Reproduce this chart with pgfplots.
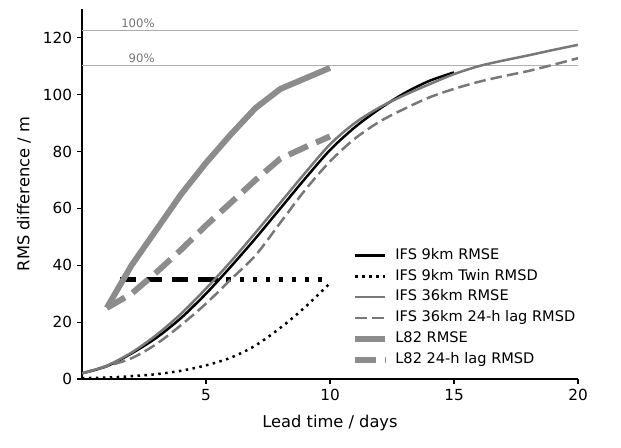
\documentclass[border=0pt]{standalone}
\usepackage{fontspec}
\setmainfont{DejaVu Sans}
\usepackage{pgfplots}
\pgfplotsset{compat=1.18}
\definecolor{lgray}{gray}{0.55}
\definecolor{mgray}{gray}{0.47}
\definecolor{refgray}{gray}{0.68}
\definecolor{txtgray}{gray}{0.45}
\begin{document}
\begin{tikzpicture}
\useasboundingbox (0,0) rectangle (447.12pt,321.84pt);
\begin{axis}[
  at={(59.04pt,48.96pt)}, anchor=south west,
  scale only axis, width=357.12pt, height=266.2pt,
  xmin=0, xmax=20, ymin=0, ymax=130,
  axis x line*=bottom, axis y line*=left,
  tick align=outside, major tick length=3.6pt,
  xtick={5,10,15,20}, ytick={0,20,...,120},
  tick style={black, line width=0.8pt},
  axis line style={line width=0.8pt},
  every tick label/.append style={font=\fontsize{11}{13}\selectfont},
  /pgf/number format/assume math mode=true,
  label style={font=\fontsize{11.7}{14}\selectfont},
  xlabel={Lead time / days}, ylabel={RMS difference / m},
  xlabel style={at={(axis description cs:0.5,0)}, anchor=base, yshift=-34.6pt},
  ylabel style={at={(axis description cs:-0.106,0.5)}, anchor=base},
  legend style={at={(0.5363,0.362)}, anchor=north west, draw=none, fill=none,
    font=\fontsize{10.5}{12}\selectfont, row sep=4.5pt,
    nodes={inner sep=0pt, text height=8pt, text depth=2.5pt},
    /tikz/every odd column/.append style={column sep=5pt}},
  legend cell align=left,
  legend image code/.code={\draw[#1] (0pt,0pt) -- (21.6pt,0pt);},
]
\addplot[refgray, line width=0.8pt, forget plot] coordinates {(0,122.5) (20,122.5)};
\addplot[refgray, line width=0.8pt, forget plot] coordinates {(0,110.25) (20,110.25)};
\node[anchor=base east, text=txtgray, font=\fontsize{8.4}{10}\selectfont, inner sep=0pt] at (axis cs:2.94,123.7) {100\%};
\node[anchor=base east, text=txtgray, font=\fontsize{8.4}{10}\selectfont, inner sep=0pt] at (axis cs:2.94,111.4) {90\%};

\addplot[black, line width=3.1pt, dash pattern=on 11.5pt off 7pt, forget plot] coordinates {(1.55,35) (5.3,35)};
\addplot[black, line width=3.1pt, dash pattern=on 3pt off 6.4pt, forget plot] coordinates {(5.3,35) (9.95,35)};

\addplot[black, line width=1.8pt, smooth, line join=round] coordinates {(0,2) (1,4.5) (2,9) (3,14.5) (4,21.5) (5,30) (6,39.5) (7,49.5) (8,60) (9,70.5) (10,80.5) (11,88.5) (12,95) (13,100.5) (14,104.8) (15,107.8)};
\addlegendentry{IFS 9km RMSE}
\addplot[black, line width=1.8pt, smooth, dash pattern=on 1.8pt off 3.2pt] coordinates {(0,0.3) (1,0.5) (2,1) (3,1.7) (4,2.9) (5,4.8) (6,7.5) (7,11.8) (8,18) (9,25.3) (10,33.7)};
\addlegendentry{IFS 9km Twin RMSD}
\addplot[mgray, line width=1.8pt, smooth, line join=round] coordinates {(0,2) (1,4.7) (2,9.3) (3,15.5) (4,23) (5,31.8) (6,41.3) (7,51.5) (8,62) (9,72.5) (10,82.5) (11,90) (12,95.5) (13,99.8) (14,103.6) (15,107.2) (16,110) (17,112) (18,113.8) (19,115.7) (20,117.5)};
\addlegendentry{IFS 36km RMSE}
\addplot[mgray, line width=1.8pt, smooth, dash pattern=on 8.4pt off 3.6pt] coordinates {(0,2) (1,4.5) (2,7.3) (3,12.3) (4,19) (5,26.5) (6,35) (7,43.5) (8,55) (9,66.5) (10,76.5) (11,84.5) (12,90.5) (13,95) (14,99) (15,102) (16,104.5) (17,106.5) (18,108.3) (19,110.5) (20,112.8)};
\addlegendentry{IFS 36km 24-h lag RMSD}
\addplot[lgray, line width=4.3pt, line join=round] coordinates {(1,25) (2,40) (3,52.5) (4,65) (5,76) (6,86) (7,95.3) (8,102) (9,105.7) (10,109.4)};
\addlegendentry{L82 RMSE}
\addplot[lgray, line width=4.3pt, dash pattern=on 15pt off 6.5pt] coordinates {(1,25) (2,30) (3,37.5) (4,45.5) (5,54) (6,62) (7,70) (8,77.5) (9,81.5) (10,85.3)};
\addlegendentry{L82 24-h lag RMSD}
\end{axis}
\end{tikzpicture}
\end{document}
